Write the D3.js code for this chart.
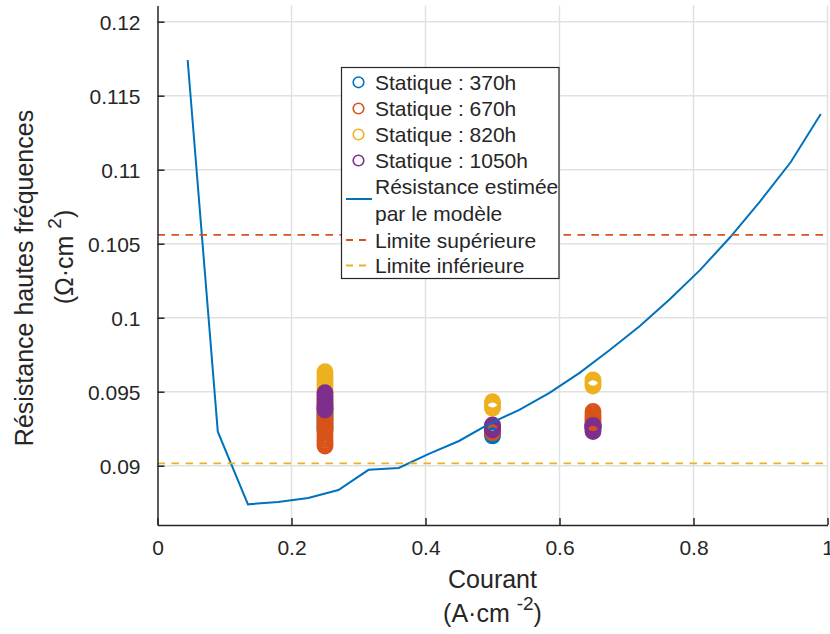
<!DOCTYPE html>
<html><head><meta charset="utf-8">
<script src="https://cdn.jsdelivr.net/npm/d3@7"></script>
<style>body{margin:0;background:#fff}svg{display:block}text{font-family:"Liberation Sans",Arial,Helvetica,sans-serif;fill:#262626}</style>
</head><body><svg id="c" width="830" height="634"></svg>
<script>
// ---- data ----
const xTicks = [0, 0.2, 0.4, 0.6, 0.8, 1];
const xTickLabels = ["0", "0.2", "0.4", "0.6", "0.8", "1"];
const yTicks = [0.09, 0.095, 0.1, 0.105, 0.11, 0.115, 0.12];
const yTickLabels = ["0.09", "0.095", "0.1", "0.105", "0.11", "0.115", "0.12"];

const modelX = [0.045, 0.09, 0.135, 0.18, 0.225, 0.27, 0.315, 0.36, 0.405, 0.45, 0.495,
                0.54, 0.585, 0.63, 0.675, 0.72, 0.765, 0.81, 0.855, 0.9, 0.945, 0.99];
const modelY = [0.11741, 0.09230, 0.08739, 0.08755, 0.08782, 0.08836, 0.08972, 0.08985, 0.09080,
                0.09167, 0.09283, 0.09377, 0.09492, 0.09627, 0.09782, 0.09944, 0.10127, 0.10323,
                0.10545, 0.10789, 0.11050, 0.11376];

const limitSup = 0.10559;
const limitInf = 0.09016;

const pts370 = [
  [0.25,0.09240],[0.25,0.09255],[0.25,0.09270],[0.25,0.09285],[0.25,0.09300],[0.25,0.09316],[0.25,0.09330],[0.25,0.09345],[0.25,0.09360],
  [0.5,0.09201],[0.5,0.09212],[0.5,0.09224],[0.5,0.09236],[0.5,0.09248],
  [0.65,0.09255],[0.65,0.09262],[0.65,0.09270],[0.65,0.09278]
];
const pts670 = [
  [0.25,0.09133],[0.25,0.09148],[0.25,0.09160],[0.25,0.09176],[0.25,0.09190],[0.25,0.09203],[0.25,0.09219],[0.25,0.09232],[0.25,0.09248],[0.25,0.09261],
  [0.25,0.09275],[0.25,0.09290],[0.25,0.09304],[0.25,0.09318],[0.25,0.09333],[0.25,0.09347],[0.25,0.09362],[0.25,0.09378],[0.25,0.09392],[0.25,0.09405],
  [0.5,0.09223],[0.5,0.09232],[0.5,0.09243],[0.5,0.09252],[0.5,0.09262],
  [0.65,0.09367],[0.65,0.09352],[0.65,0.09338],[0.65,0.09323],[0.65,0.09309],[0.65,0.09296],[0.65,0.09282],[0.65,0.09268],[0.65,0.09255]
];
const pts820 = [
  [0.25,0.09636],[0.25,0.09620],[0.25,0.09608],[0.25,0.09595],[0.25,0.09580],[0.25,0.09566],[0.25,0.09551],[0.25,0.09537],[0.25,0.09522],
  [0.25,0.09508],[0.25,0.09493],[0.25,0.09478],[0.25,0.09462],[0.25,0.09447],[0.25,0.09432],[0.25,0.09418],[0.25,0.09403],[0.25,0.09390],
  [0.5,0.09433],[0.5,0.09421],[0.5,0.09410],[0.5,0.09398],[0.5,0.09388],
  [0.65,0.09579],[0.65,0.09568],[0.65,0.09558],[0.65,0.09548],[0.65,0.09538]
];
const pts1050 = [
  [0.25,0.09494],[0.25,0.09480],[0.25,0.09466],[0.25,0.09452],[0.25,0.09437],[0.25,0.09423],[0.25,0.09409],[0.25,0.09395],[0.25,0.09383],[0.25,0.09376],
  [0.5,0.09275],[0.5,0.09266],[0.5,0.09257],[0.5,0.09249],[0.5,0.09241],
  [0.65,0.09273],[0.65,0.09262],[0.65,0.09251],[0.65,0.09240],[0.65,0.09230]
];

const seriesNames = ["Statique : 370h", "Statique : 670h", "Statique : 820h", "Statique : 1050h"];
const seriesColors = ["#0072BD", "#D95319", "#EDB120", "#7E2F8E"];
const seriesPoints = [pts370, pts670, pts820, pts1050];

// ---- chart ----
const svg = d3.select("#c");
const x = d3.scaleLinear().domain([0, 1]).range([157.5, 827.5]);
const y = d3.scaleLinear().domain([0.086, 0.1211]).range([524.9, 5.4]);
const axisColor = "#262626";

// grid
const grid = svg.append("g");
grid.selectAll("line.gx").data(xTicks.filter(d => d > 0)).join("line")
  .attr("x1", d => x(d)).attr("x2", d => x(d)).attr("y1", y.range()[0]).attr("y2", y.range()[1])
  .attr("stroke", "#e1e1e1").attr("stroke-width", 1.5);
grid.selectAll("line.gy").data(yTicks).join("line")
  .attr("x1", x.range()[0]).attr("x2", x.range()[1]).attr("y1", d => y(d)).attr("y2", d => y(d))
  .attr("stroke", "#e1e1e1").attr("stroke-width", 1.5);

// scatter
const marks = svg.append("g");
seriesPoints.forEach((pts, i) => {
  marks.append("g").selectAll("circle").data(pts).join("circle")
    .attr("cx", d => x(d[0])).attr("cy", d => y(d[1])).attr("r", 7.1)
    .attr("fill", "none").attr("stroke", seriesColors[i]).attr("stroke-width", 2.6);
});

// model line
const line = d3.line().x(d => x(d[0])).y(d => y(d[1]));
svg.append("path").datum(modelX.map((v, i) => [v, modelY[i]]))
  .attr("d", line).attr("fill", "none").attr("stroke", "#0072BD").attr("stroke-width", 2);

// limits
[[limitSup, "#D95319"], [limitInf, "#EDB120"]].forEach(([v, c]) => {
  svg.append("line").attr("x1", x(0)).attr("x2", x(1)).attr("y1", y(v)).attr("y2", y(v))
    .attr("stroke", c).attr("stroke-width", 1.8).attr("stroke-dasharray", "7.5,6.5");
});

// axes
const xAxis = d3.axisBottom(x).tickValues(xTicks).tickFormat((d, i) => xTickLabels[i]).tickSizeInner(-7).tickSizeOuter(0).tickPadding(30);
const gx = svg.append("g").attr("transform", `translate(0,${y.range()[0]})`).call(xAxis);
const yAxis = d3.axisLeft(y).tickValues(yTicks).tickFormat((d, i) => yTickLabels[i]).tickSizeInner(-7).tickSizeOuter(0).tickPadding(17);
const gy = svg.append("g").attr("transform", `translate(${x.range()[0]},0)`).call(yAxis);
[gx, gy].forEach(g => {
  g.select(".domain").attr("stroke", axisColor).attr("stroke-width", 1.5);
  g.selectAll(".tick line").attr("stroke", axisColor).attr("stroke-width", 1.5);
  g.selectAll(".tick text").attr("font-size", 21).attr("fill", axisColor)
   .style("font-family", '"Liberation Sans",Arial,Helvetica,sans-serif');
});
gx.selectAll(".tick text").attr("dy", "0");
gy.selectAll(".tick text").attr("dy", "0.36em");

// axis titles
svg.append("text").attr("x", x(0.5)).attr("y", 588).attr("text-anchor", "middle").attr("font-size", 25).text("Courant");
const xl2 = svg.append("text").attr("x", x(0.5)).attr("y", 622).attr("text-anchor", "middle").attr("font-size", 25);
xl2.append("tspan").text("(A·cm ");
xl2.append("tspan").attr("dy", -12).attr("font-size", 19).text("-2");
xl2.append("tspan").attr("dy", 12).text(")");

svg.append("text").attr("transform", "translate(33,278) rotate(-90)").attr("text-anchor", "middle").attr("font-size", 25)
  .text("Résistance hautes fréquences");
const yl2 = svg.append("text").attr("transform", "translate(73,257) rotate(-90)").attr("text-anchor", "middle").attr("font-size", 25);
yl2.append("tspan").text("(Ω·cm ");
yl2.append("tspan").attr("dy", -12).attr("font-size", 19).text("2");
yl2.append("tspan").attr("dy", 12).text(")");

// legend
const lg = svg.append("g");
lg.append("rect").attr("x", 341.5).attr("y", 67.5).attr("width", 217.5).attr("height", 211)
  .attr("fill", "#fff").attr("stroke", axisColor).attr("stroke-width", 1.2);
const rows = [82.3, 108.5, 134.5, 160.5];
seriesNames.forEach((n, i) => {
  lg.append("circle").attr("cx", 358.5).attr("cy", rows[i]).attr("r", 5.3).attr("fill", "none")
    .attr("stroke", seriesColors[i]).attr("stroke-width", 1.6);
  lg.append("text").attr("x", 375).attr("y", rows[i] + 7.5).attr("font-size", 21).text(n);
});
lg.append("line").attr("x1", 346).attr("x2", 372).attr("y1", 199).attr("y2", 199).attr("stroke", "#0072BD").attr("stroke-width", 2);
lg.append("text").attr("x", 375).attr("y", 194).attr("font-size", 21).text("Résistance estimée");
lg.append("text").attr("x", 375).attr("y", 220.5).attr("font-size", 21).text("par le modèle");
[[240, "#D95319", "Limite supérieure"], [265.5, "#EDB120", "Limite inférieure"]].forEach(([yy, c, t]) => {
  lg.append("line").attr("x1", 346).attr("x2", 372).attr("y1", yy).attr("y2", yy).attr("stroke", c)
    .attr("stroke-width", 1.8).attr("stroke-dasharray", "7,6");
  lg.append("text").attr("x", 375).attr("y", yy + 7.5).attr("font-size", 21).text(t);
});
</script></body></html>
